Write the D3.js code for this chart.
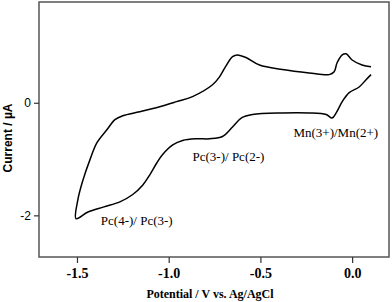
<!DOCTYPE html>
<html>
<head>
<meta charset="utf-8">
<script src="https://cdn.jsdelivr.net/npm/d3@7/dist/d3.min.js"></script>
<style>
  body { margin: 0; background: #fff; }
  svg { display: block; }
</style>
</head>
<body>
<svg id="chart" width="392" height="302"></svg>
<script>
// potential (V) and current (uA), one closed loop
const potential = [
  0.103, 0.076, 0.038, -0.016, -0.054, -0.087, -0.109, -0.141, -0.234, -0.38,
  -0.543, -0.603, -0.652, -0.707, -0.777, -0.848, -0.924, -0.978, -1.033, -1.065,
  -1.103, -1.141, -1.196, -1.266, -1.353, -1.44, -1.505,
  -1.495, -1.467, -1.429, -1.391, -1.337, -1.293, -1.25, -1.158, -1.049, -0.957,
  -0.87, -0.761, -0.723, -0.685, -0.652, -0.625, -0.576, -0.505, -0.38, -0.234,
  -0.125, -0.098, -0.082, -0.054, -0.033, 0.0, 0.054, 0.103
];
const current = [
  0.5, 0.41, 0.28, 0.18, 0.02, -0.18, -0.27, -0.21, -0.18, -0.18,
  -0.21, -0.27, -0.43, -0.6, -0.64, -0.64, -0.67, -0.75, -0.92, -1.07,
  -1.28, -1.46, -1.63, -1.76, -1.85, -1.94, -2.06,
  -1.72, -1.37, -1.01, -0.71, -0.48, -0.3, -0.23, -0.16, -0.07, 0.02,
  0.11, 0.32, 0.46, 0.67, 0.82, 0.85, 0.8, 0.67, 0.59, 0.53,
  0.5, 0.55, 0.71, 0.85, 0.87, 0.76, 0.67, 0.64
];
const xTicks = [-1.5, -1.0, -0.5, 0.0];
const yTicks = [0, -2];
const labels = ["Mn(3+)/Mn(2+)", "Pc(3-)/ Pc(2-)", "Pc(4-)/ Pc(3-)"];
const labelPos = [[-0.32, -0.6], [-0.87, -1.04], [-1.37, -2.18]]; // V, uA of text start/baseline

const margin = { top: 2, right: 3, bottom: 45, left: 39 };
const W = 392, H = 302;
const width = W - margin.left - margin.right,
  height = H - margin.top - margin.bottom;

const svg = d3.select("#chart");
const g = svg.append("g").attr("transform", `translate(${margin.left},${margin.top})`);

const x = d3.scaleLinear().domain([-1.707, 0.201]).range([0, width]);
const y = d3.scaleLinear().domain([-2.74, 1.79]).range([height, 0]);

const pts = potential.map((v, i) => [v, current[i]]);

g.append("path")
  .datum(pts)
  .attr("fill", "none")
  .attr("stroke", "#000")
  .attr("stroke-width", 1.5)
  .attr("stroke-linejoin", "round")
  .attr("d", d3.line().x((d) => x(d[0])).y((d) => y(d[1])).curve(d3.curveCatmullRom.alpha(0.5)));

// frame
g.append("rect")
  .attr("width", width)
  .attr("height", height)
  .attr("fill", "none")
  .attr("stroke", "#555")
  .attr("stroke-width", 1.5);

// x axis
const xAxis = g.append("g")
  .attr("transform", `translate(0,${height})`)
  .call(d3.axisBottom(x).tickValues(xTicks).tickSize(6).tickSizeOuter(0));
xAxis.select(".domain").remove();
xAxis.selectAll("line").attr("stroke", "#333").attr("stroke-width", 1.2);
xAxis.selectAll("text")
  .attr("dy", "0")
  .attr("y", 21)
  .attr("fill", "#000")
  .style("font-family", "'Liberation Serif', 'Times New Roman', serif")
  .style("font-weight", "bold")
  .style("font-size", "14px")
  .text((d) => d3.format(".1f")(d).replace("−", "-"));

// y axis
const yAxis = g.append("g")
  .call(d3.axisLeft(y).tickValues(yTicks).tickSize(5).tickSizeOuter(0).tickFormat((d) => String(d)));
yAxis.select(".domain").remove();
yAxis.selectAll("line").attr("stroke", "#333").attr("stroke-width", 1.2);
yAxis.selectAll("text")
  .attr("x", -8)
  .attr("fill", "#000")
  .style("font-family", "'Liberation Sans', Arial, sans-serif")
  .style("font-size", "12px");

// axis titles
svg.append("text")
  .attr("x", 210)
  .attr("y", 298)
  .attr("text-anchor", "middle")
  .style("font-family", "'Liberation Serif', 'Times New Roman', serif")
  .style("font-weight", "bold")
  .style("font-size", "12px")
  .text("Potential / V vs. Ag/AgCl");

svg.append("text")
  .attr("transform", "translate(12,138) rotate(-90)")
  .attr("text-anchor", "middle")
  .style("font-family", "'Liberation Sans', Arial, sans-serif")
  .style("font-weight", "bold")
  .style("font-size", "12px")
  .text("Current / µA");

// peak annotations
g.selectAll("text.ann")
  .data(labels)
  .enter()
  .append("text")
  .attr("class", "ann")
  .attr("x", (d, i) => x(labelPos[i][0]))
  .attr("y", (d, i) => y(labelPos[i][1]))
  .style("font-family", "'Liberation Serif', 'Times New Roman', serif")
  .style("font-size", "13px")
  .text((d) => d);
</script>
</body>
</html>
